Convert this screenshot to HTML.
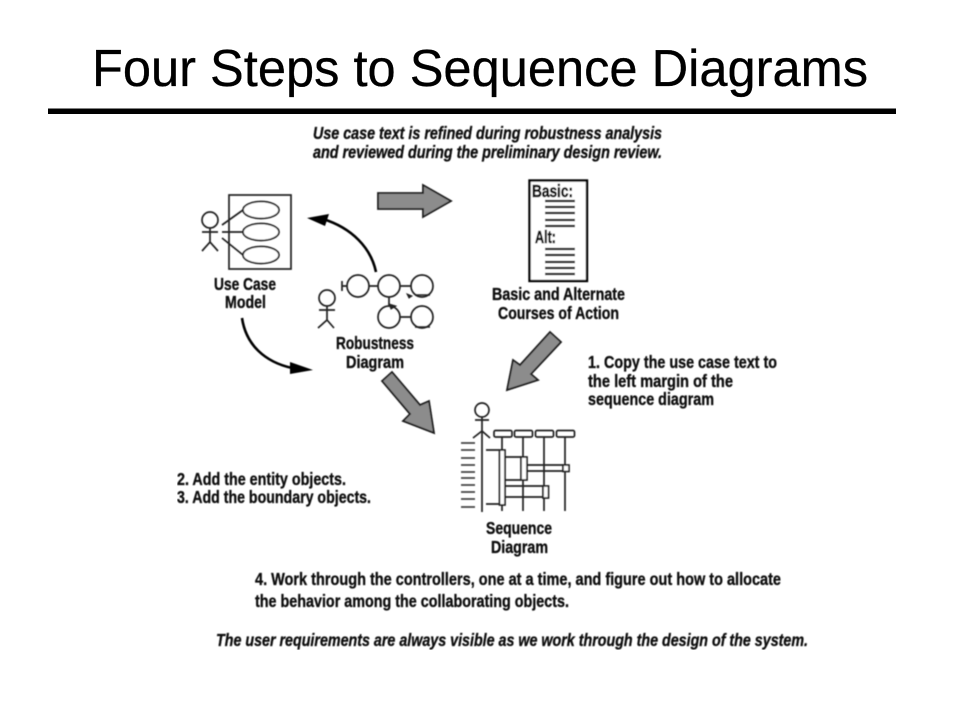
<!DOCTYPE html>
<html>
<head>
<meta charset="utf-8">
<style>
html,body{margin:0;padding:0;background:#fff;width:960px;height:720px;overflow:hidden}
svg{display:block}
.t{font-family:"Liberation Sans",Arial,sans-serif;font-weight:bold;font-size:17.500px;fill:#111;stroke:#111;stroke-width:.35px}
.i{font-style:italic}
.s{fill:none;stroke:#222;stroke-width:1.700}
.g{fill:#8c8c8c;stroke:#1a1a1a;stroke-width:1.800;stroke-linejoin:miter}
.k{stroke:#000;stroke-width:2.600;fill:none}
</style>
</head>
<body>
<svg width="960" height="720" viewBox="0 0 960 720" xmlns="http://www.w3.org/2000/svg">
<defs><filter id="b" x="0" y="0" width="100%" height="100%"><feGaussianBlur stdDeviation="0.4"/></filter></defs>
<rect width="960" height="720" fill="#fff"/>
<text x="92" y="86" font-family="'Liberation Sans',Arial,sans-serif" font-size="52" fill="#000" stroke="#000" stroke-width=".3" textLength="776" lengthAdjust="spacingAndGlyphs">Four Steps to Sequence Diagrams</text>
<rect x="48" y="108.500" width="848" height="5.500" fill="#000"/>
<g filter="url(#b)">
<text class="t i" x="313" y="139" textLength="349" lengthAdjust="spacingAndGlyphs">Use case text is refined during robustness analysis</text>
<text class="t i" x="313" y="158" textLength="349" lengthAdjust="spacingAndGlyphs">and reviewed during the preliminary design review.</text>
<text class="t" x="214" y="290" textLength="62" lengthAdjust="spacingAndGlyphs">Use Case</text>
<text class="t" x="225" y="308" textLength="41" lengthAdjust="spacingAndGlyphs">Model</text>
<text class="t" x="336" y="349" textLength="78" lengthAdjust="spacingAndGlyphs">Robustness</text>
<text class="t" x="346" y="368" textLength="58" lengthAdjust="spacingAndGlyphs">Diagram</text>
<text class="t" x="492" y="300" textLength="133" lengthAdjust="spacingAndGlyphs">Basic and Alternate</text>
<text class="t" x="498" y="319" textLength="121" lengthAdjust="spacingAndGlyphs">Courses of Action</text>
<text class="t" x="588" y="368" textLength="189" lengthAdjust="spacingAndGlyphs">1. Copy the use case text to</text>
<text class="t" x="588" y="387" textLength="145" lengthAdjust="spacingAndGlyphs">the left margin of the</text>
<text class="t" x="588" y="405" textLength="126" lengthAdjust="spacingAndGlyphs">sequence diagram</text>
<text class="t" x="177" y="485" textLength="169" lengthAdjust="spacingAndGlyphs">2. Add the entity objects.</text>
<text class="t" x="177" y="503" textLength="194" lengthAdjust="spacingAndGlyphs">3. Add the boundary objects.</text>
<text class="t" x="486" y="534" textLength="66" lengthAdjust="spacingAndGlyphs">Sequence</text>
<text class="t" x="491" y="553" textLength="57" lengthAdjust="spacingAndGlyphs">Diagram</text>
<text class="t" x="255" y="585" textLength="526" lengthAdjust="spacingAndGlyphs">4. Work through the controllers, one at a time, and figure out how to allocate</text>
<text class="t" x="255" y="607" textLength="314" lengthAdjust="spacingAndGlyphs">the behavior among the collaborating objects.</text>
<text class="t i" x="216" y="646" textLength="592" lengthAdjust="spacingAndGlyphs">The user requirements are always visible as we work through the design of the system.</text>

<!-- Use case model -->
<rect class="s" x="229" y="195" width="62" height="74"/>
<path class="s" d="M222 225L243 210M222 232H243M222 238L243 255"/>
<ellipse class="s" cx="261" cy="210" rx="18" ry="8.500" style="fill:#fff"/>
<ellipse class="s" cx="261" cy="232" rx="18" ry="8.500" style="fill:#fff"/>
<ellipse class="s" cx="261" cy="255" rx="18" ry="8.500" style="fill:#fff"/>
<circle class="s" cx="210" cy="220" r="8"/>
<path class="s" d="M210 228V242M202 232H218M202 251L210 242L218 251"/>

<!-- Curved arrows -->
<path class="k" d="M376 272C371 248 352 228 323 219"/>
<polygon points="307,218 329,214 325,226" fill="#000"/>
<path class="k" d="M242 318C246 345 265 362 292 368"/>
<polygon points="313,370 290,362 290,374" fill="#000"/>

<!-- Robustness -->
<circle class="s" cx="327" cy="298" r="8"/>
<path class="s" d="M327 306V320M319 310H335M318 328L327 320L334 328"/>
<path class="s" d="M342 281V291M342 286H347M369 286H378M400 286H411M389 297V306M400 317H411"/>
<circle class="s" cx="358" cy="286" r="11"/>
<circle class="s" cx="389" cy="286" r="11"/>
<circle class="s" cx="422" cy="286" r="11"/>
<circle class="s" cx="389" cy="317" r="11"/>
<circle class="s" cx="422" cy="317" r="11"/>
<path d="M415 295H430M415 327H430" stroke="#222" stroke-width="1.500"/>
<path d="M407 294L412 296L409 298Z M389 304L396 306L391 309Z" fill="#222" stroke="#222"/>

<!-- Block arrows -->
<polygon class="g" points="378,193 423,193 423,185 451,201 423,217 423,209 378,209"/>
<polygon class="g" points="550,332 561,342 531,374 538,380 507,390 513,360 520,365"/>
<polygon class="g" points="382,381 392,372 420,405 429,401 434,433 403,421 410,414"/>

<!-- Document -->
<rect x="529.500" y="180.500" width="57.500" height="100.500" fill="#fff" stroke="#000" stroke-width="2.400"/>
<text class="t" style="stroke-width:.6px" x="532" y="197" textLength="41" lengthAdjust="spacingAndGlyphs">Basic:</text>
<text class="t" style="stroke-width:.6px" x="535" y="243" textLength="21" lengthAdjust="spacingAndGlyphs">Alt:</text>
<path stroke="#000" stroke-width="2.200" d="M545 201H575M545 207H575M545 213H575M545 220H575M545 226H575M545 249H575M545 255H575M545 262H575M545 268H575M545 274H575"/>

<!-- Sequence diagram -->
<circle class="s" cx="482" cy="410" r="7"/>
<path class="s" d="M475 420H489M482 417V512M473 438L482 431L490 438"/>
<path stroke="#444" stroke-width="1.800" d="M461 443H475M461 450H475M461 458H475M461 465H475M461 472H475M461 478H475M461 485H475M461 492H475M461 499H475M461 507H475"/>
<g class="s">
<path d="M502 437V511M523 437V511M544 437V511M565 437V511"/>
<rect x="494" y="430.500" width="18" height="6.500" rx="1.500"/>
<rect x="514.500" y="430.500" width="18" height="6.500" rx="1.500"/>
<rect x="535.500" y="430.500" width="18" height="6.500" rx="1.500"/>
<rect x="556.500" y="430.500" width="18" height="6.500" rx="1.500"/>
<rect x="499.500" y="450" width="5.500" height="55" style="fill:#fff"/>
<rect x="521" y="457" width="6" height="23" style="fill:#fff"/>
<rect x="563" y="465" width="6" height="6.500" style="fill:#fff"/>
<rect x="543" y="486" width="5.500" height="12" style="fill:#fff"/>
<path d="M486 450H499M505 457H521M527 465H563M527 471H563M505 480H521M505 486H543M505 497H543M486 504H499"/>
</g>
</g>
</svg>
</body>
</html>
